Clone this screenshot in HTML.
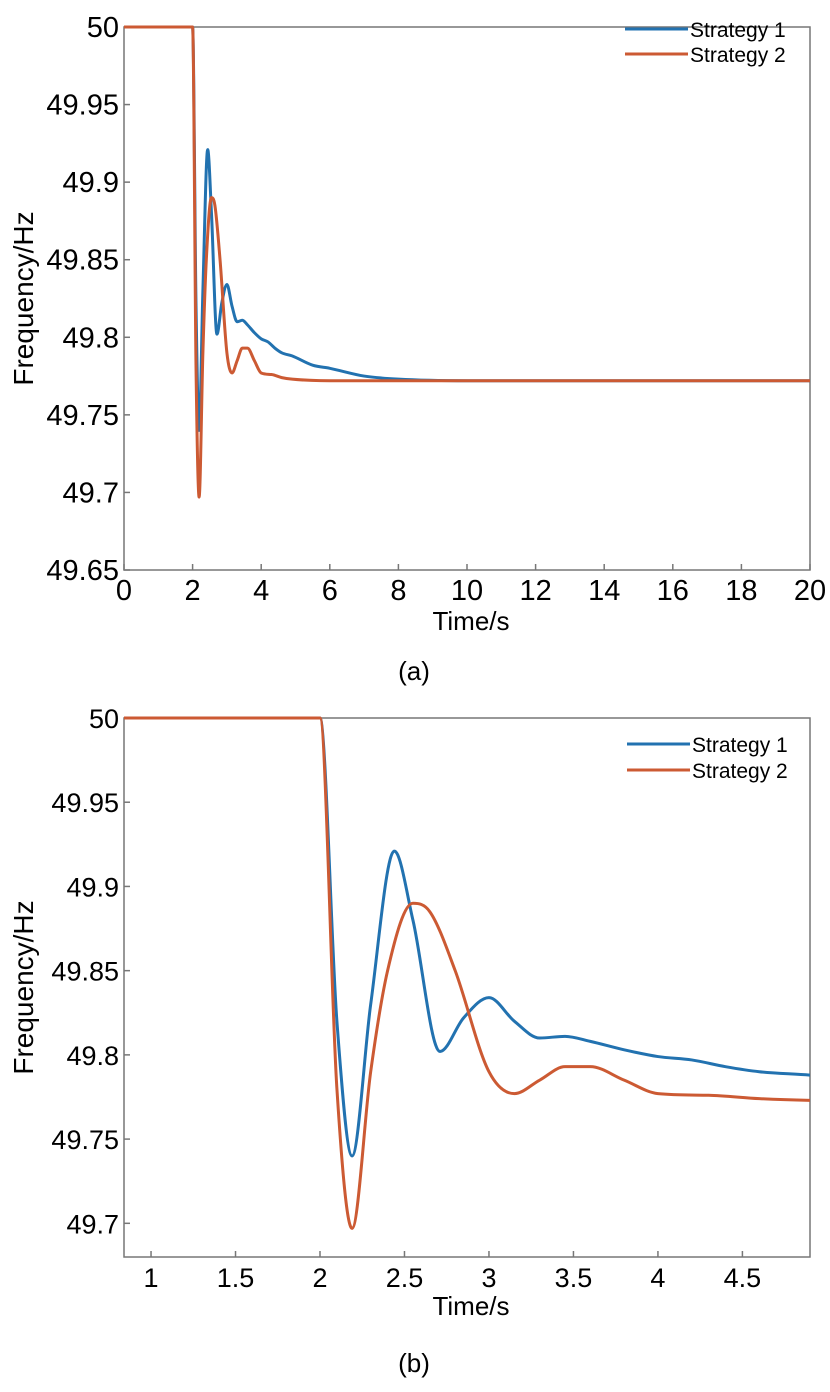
<!DOCTYPE html>
<html><head><meta charset="utf-8"><style>
html,body{margin:0;padding:0;background:#fff}
svg text{font-family:"Liberation Sans",Arial,sans-serif;fill:#000}
</style></head><body>
<svg id="chart" width="830" height="1387" viewBox="0 0 830 1387" xmlns="http://www.w3.org/2000/svg"></svg>
<script>
const s1T=[0,2.0,2.1,2.19,2.3,2.44,2.55,2.71,2.85,3.0,3.15,3.3,3.45,3.6,3.8,4.0,4.2,4.4,4.6,4.9,5.5,6,7,8,10,14,20];
const s1V=[50,50,49.82,49.74,49.83,49.921,49.88,49.802,49.822,49.834,49.82,49.81,49.811,49.808,49.803,49.799,49.797,49.793,49.79,49.788,49.782,49.78,49.775,49.773,49.772,49.772,49.772];
const s2T=[0,2.0,2.1,2.19,2.3,2.4,2.55,2.65,2.8,3.0,3.15,3.3,3.45,3.6,3.8,4.0,4.3,4.6,4.9,6,8,10,14,20];
const s2V=[50,50,49.78,49.697,49.79,49.85,49.89,49.885,49.85,49.79,49.777,49.785,49.793,49.793,49.785,49.777,49.776,49.774,49.773,49.772,49.772,49.772,49.772,49.772];
const aYTicks=[50,49.95,49.9,49.85,49.8,49.75,49.7,49.65];
const aXTicks=[0,2,4,6,8,10,12,14,16,18,20];
const bYTicks=[50,49.95,49.9,49.85,49.8,49.75,49.7];
const bXTicks=[1,1.5,2,2.5,3,3.5,4,4.5];
const NS="http://www.w3.org/2000/svg";
const svg=document.getElementById('chart');
function el(tag,attrs,parent){const e=document.createElementNS(NS,tag);for(const k in attrs)e.setAttribute(k,attrs[k]);(parent||svg).appendChild(e);return e;}
function monoPath(p){const n=p.length;const d=[],m=new Array(n);
  for(let i=0;i<n-1;i++)d.push((p[i+1][1]-p[i][1])/(p[i+1][0]-p[i][0]));
  m[0]=d[0];m[n-1]=d[n-2];
  for(let i=1;i<n-1;i++){m[i]=(d[i-1]*d[i]<=0)?0:(d[i-1]+d[i])/2;}
  for(let i=0;i<n-1;i++){if(d[i]===0){m[i]=0;m[i+1]=0;continue;}const a=m[i]/d[i],b=m[i+1]/d[i],s=a*a+b*b;if(s>9){const t=3/Math.sqrt(s);m[i]=t*a*d[i];m[i+1]=t*b*d[i];}}
  let s='M'+p[0][0]+','+p[0][1];
  for(let i=0;i<n-1;i++){const h=(p[i+1][0]-p[i][0])/3;s+=' C'+(p[i][0]+h)+','+(p[i][1]+m[i]*h)+' '+(p[i+1][0]-h)+','+(p[i+1][1]-m[i+1]*h)+' '+p[i+1][0]+','+p[i+1][1];}
  return s;}
function panel(cfg){
  const g=el('g',{});
  
  
  const xs=v=>cfg.L+(v-cfg.x0)/(cfg.x1-cfg.x0)*(cfg.R-cfg.L);
  const ys=v=>cfg.T+(cfg.y0-v)/(cfg.y0-cfg.y1)*(cfg.B-cfg.T);
  const cid='clip'+cfg.name;
  const cp=el('clipPath',{id:cid},g);el('rect',{x:cfg.L,y:cfg.T-3,width:cfg.R-cfg.L,height:cfg.B-cfg.T+3},cp);
  const frame=el('rect',{x:cfg.L,y:cfg.T,width:cfg.R-cfg.L,height:cfg.B-cfg.T,fill:'none',stroke:'#777','stroke-width':1.5},g);
  
  
  cfg.yt.forEach(v=>{const y=ys(v);el('line',{x1:cfg.L,x2:cfg.L+6,y1:y,y2:y,stroke:'#777','stroke-width':1.5},g);
    const t=el('text',{x:cfg.L-5,y:y+10,'text-anchor':'end','font-size':cfg.fs},g);t.textContent=String(v);
    
    });
  cfg.xt.forEach(v=>{const x=xs(v);el('line',{x1:x,x2:x,y1:cfg.B,y2:cfg.B-6,stroke:'#777','stroke-width':1.5},g);
    const t=el('text',{x:x,y:cfg.B+30,'text-anchor':'middle','font-size':cfg.fs},g);t.textContent=String(v);
    
    });
  const series=[[s1T,s1V,'#2272b0','strategy-1-line'],[s2T,s2V,'#cc5a33','strategy-2-line']];
  series.forEach(([T,V,c,n])=>{const pts=T.map((t,i)=>[xs(t),ys(V[i])]);
    const p=el('path',{d:monoPath(pts),fill:'none',stroke:c,'stroke-width':3,'clip-path':'url(#'+cid+')','stroke-linejoin':'round'},g);
    
    });
  const xt=el('text',{x:(cfg.L+cfg.R)/2+4,y:cfg.titleY,'text-anchor':'middle','font-size':26},g);xt.textContent='Time/s';
  
  
  const yt=el('text',{x:0,y:0,'text-anchor':'middle','font-size':28,transform:'translate(33,'+((cfg.T+cfg.B)/2)+') rotate(-90)'},g);yt.textContent='Frequency/Hz';
  
  
  const lg=el('g',{},g);
  
  
  [['Strategy 1','#2272b0'],['Strategy 2','#cc5a33']].forEach(([n,c],i)=>{const y=cfg.legY+i*cfg.legDy;
    const e=el('g',{},lg);
    
    
    el('line',{x1:cfg.legX,x2:cfg.legX+63,y1:y,y2:y,stroke:c,'stroke-width':3},e);
    const t=el('text',{x:cfg.legX+65,y:y+8,'font-size':21},e);t.textContent=n;});
  const cap=el('text',{x:414,y:cfg.capY,'text-anchor':'middle','font-size':26},g);cap.textContent=cfg.cap;
  
  
}
panel({name:'panel-a',L:124,R:810,T:27,B:570,x0:0,x1:20,y0:50,y1:49.65,yt:aYTicks,xt:aXTicks,fs:29,legX:625,legY:29,legDy:25,capY:680,cap:'(a)',titleY:630});
panel({name:'panel-b',L:124,R:810,T:718,B:1257,x0:0.84,x1:4.9,y0:50,y1:49.68,yt:bYTicks,xt:bXTicks,fs:27,legX:627,legY:744,legDy:26,capY:1372,cap:'(b)',titleY:1315});
</script>
</body></html>
